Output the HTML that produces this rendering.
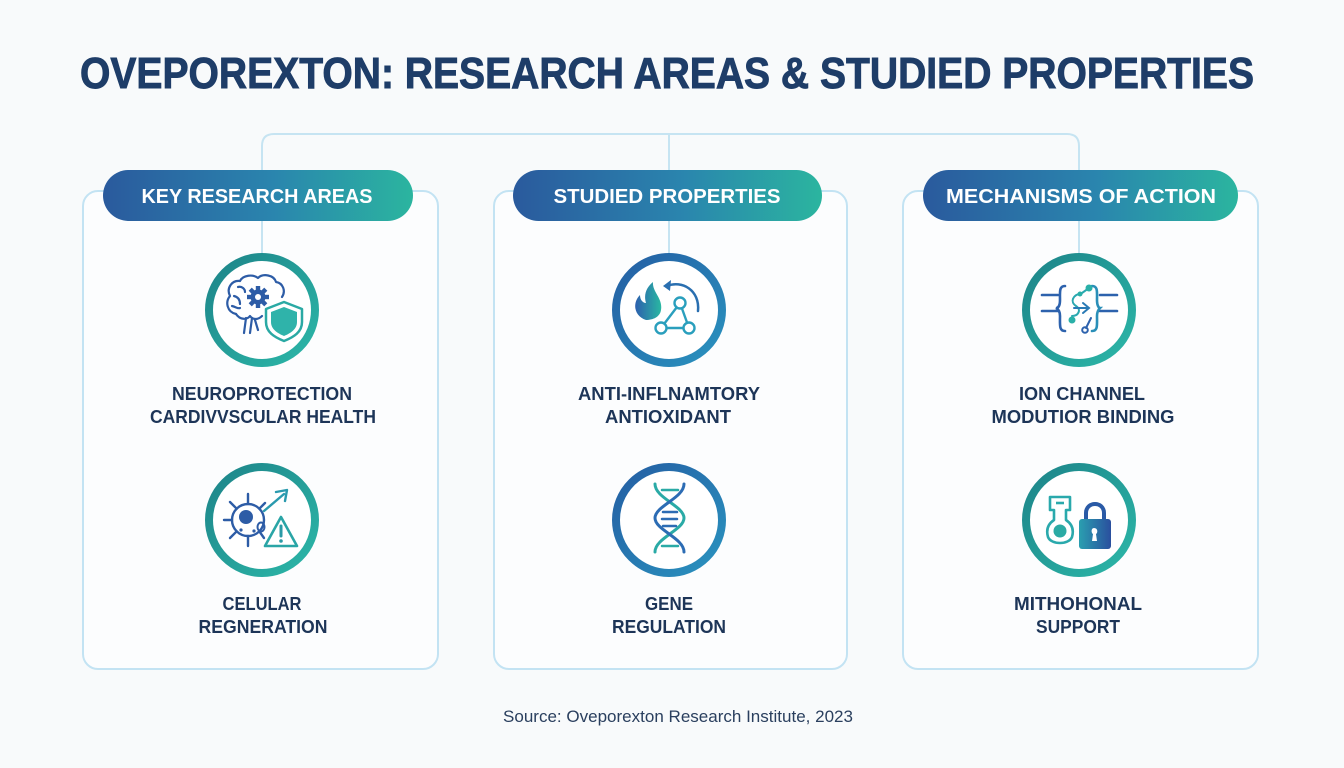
<!DOCTYPE html>
<html>
<head>
<meta charset="utf-8">
<style>
  html,body{margin:0;padding:0;background:#f8fafb;}
  svg{display:block;}
  text{font-family:"Liberation Sans",Arial,sans-serif;}
</style>
</head>
<body>
<svg width="1344" height="768" viewBox="0 0 1344 768" xmlns="http://www.w3.org/2000/svg">
  <defs>
    <linearGradient id="tab" x1="0" y1="0" x2="1" y2="0">
      <stop offset="0" stop-color="#2a5a9d"/>
      <stop offset="0.55" stop-color="#2a85ae"/>
      <stop offset="1" stop-color="#2bb59f"/>
    </linearGradient>
    <linearGradient id="teal" x1="0" y1="0" x2="1" y2="1">
      <stop offset="0" stop-color="#1d8489"/>
      <stop offset="1" stop-color="#2cb7a8"/>
    </linearGradient>
    <linearGradient id="blue" x1="0" y1="0" x2="1" y2="1">
      <stop offset="0" stop-color="#245ea3"/>
      <stop offset="1" stop-color="#2a93bf"/>
    </linearGradient>
    <linearGradient id="flame" x1="0" y1="0" x2="1" y2="0">
      <stop offset="0" stop-color="#2c5fae"/>
      <stop offset="1" stop-color="#2ab8a2"/>
    </linearGradient>
    <linearGradient id="lock" x1="0" y1="0" x2="1" y2="0">
      <stop offset="0" stop-color="#2a9fb0"/>
      <stop offset="1" stop-color="#2a4f9e"/>
    </linearGradient>
  </defs>

  <rect width="1344" height="768" fill="#f8fafb"/>

  <!-- Title -->
  <text x="667" y="88" text-anchor="middle" font-size="44" font-weight="bold" fill="#1e3d68" stroke="#1e3d68" stroke-width="0.9" textLength="1174" lengthAdjust="spacingAndGlyphs">OVEPOREXTON: RESEARCH AREAS &amp; STUDIED PROPERTIES</text>

  <!-- connector lines -->
  <g fill="none" stroke="#c6e4f2" stroke-width="2">
    <path d="M262,172 V146 Q262,134 274,134 H1067 Q1079,134 1079,146 V172"/>
    <path d="M669,134 V172"/>
  </g>

  <!-- Cards -->
  <g fill="#fcfdfe" stroke="#c3e3f3" stroke-width="2">
    <rect x="83" y="191" width="355" height="478" rx="15"/>
    <rect x="494" y="191" width="353" height="478" rx="15"/>
    <rect x="903" y="191" width="355" height="478" rx="15"/>
  </g>

  <!-- vertical connectors tab->circle -->
  <g stroke="#c6e4f2" stroke-width="2">
    <line x1="262" y1="221" x2="262" y2="254"/>
    <line x1="669" y1="221" x2="669" y2="254"/>
    <line x1="1079" y1="221" x2="1079" y2="254"/>
  </g>

  <!-- Tabs -->
  <rect x="103" y="170" width="310" height="51" rx="25.5" fill="url(#tab)"/>
  <rect x="513" y="170" width="309" height="51" rx="25.5" fill="url(#tab)"/>
  <rect x="923" y="170" width="315" height="51" rx="25.5" fill="url(#tab)"/>
  <g fill="#ffffff" font-size="20" font-weight="bold">
    <text x="257" y="203" text-anchor="middle" textLength="231" lengthAdjust="spacingAndGlyphs">KEY RESEARCH AREAS</text>
    <text x="667" y="203" text-anchor="middle" textLength="227" lengthAdjust="spacingAndGlyphs">STUDIED PROPERTIES</text>
    <text x="1081" y="203" text-anchor="middle" textLength="270" lengthAdjust="spacingAndGlyphs">MECHANISMS OF ACTION</text>
  </g>

  <!-- Circles -->
  <g fill="#ffffff" stroke-width="8">
    <circle cx="262" cy="310" r="53" stroke="url(#teal)"/>
    <circle cx="669" cy="310" r="53" stroke="url(#blue)"/>
    <circle cx="1079" cy="310" r="53" stroke="url(#teal)"/>
    <circle cx="262" cy="520" r="53" stroke="url(#teal)"/>
    <circle cx="669" cy="520" r="53" stroke="url(#blue)"/>
    <circle cx="1079" cy="520" r="53" stroke="url(#teal)"/>
  </g>

  <!-- Icon 1: brain + gear + shield -->
  <g fill="none" stroke="#2d5ca6" stroke-width="2.2" stroke-linecap="round" stroke-linejoin="round">
    <path d="M236,314 C227,312 225,302 230,296 C226,288 232,280 240,281 C243,275 253,274 258,278 C263,273 274,275 276,282 C283,283 286,291 282,297"/>
    <path d="M236,314 C240,320 247,320 250,316 C253,320 258,320 262,316"/>
    <path d="M246,318 L244,333 M252,318 L250,333 M255,320 L258,330"/>
    <path d="M234,296 C238,297 240,300 240,304 M238,287 C242,286 245,289 245,292 M232,306 C236,307 238,309 240,308"/>
  </g>
  <g transform="translate(258,297)">
    <circle r="7.5" fill="#2d5ca6"/>
    <g fill="#2d5ca6">
      <rect x="-2.2" y="-11" width="4.4" height="5"/>
      <rect x="-2.2" y="6" width="4.4" height="5"/>
      <rect x="-11" y="-2.2" width="5" height="4.4"/>
      <rect x="6" y="-2.2" width="5" height="4.4"/>
      <rect x="-2.2" y="-11" width="4.4" height="5" transform="rotate(45)"/>
      <rect x="-2.2" y="6" width="4.4" height="5" transform="rotate(45)"/>
      <rect x="-11" y="-2.2" width="5" height="4.4" transform="rotate(45)"/>
      <rect x="6" y="-2.2" width="5" height="4.4" transform="rotate(45)"/>
    </g>
    <circle r="3" fill="#ffffff"/>
  </g>
  <path d="M284,302 L302,309 V322 C302,332 294,337 284,341 C274,337 266,332 266,322 V309 Z" fill="#ffffff" stroke="#2aa9a4" stroke-width="2.5" stroke-linejoin="round"/>
  <path d="M284,307 L297,312 V322 C297,329 291,333 284,336 C277,333 271,329 271,322 V312 Z" fill="#2fb3aa"/>

  <!-- Icon 2: flame + cycle + molecule -->
  <path d="M646,320 C634,316 632,303 640,295 C640,300 643,303 646,303 C643,293 648,286 653,282 C652,292 663,298 661,310 C660,317 653,320 646,320 Z" fill="url(#flame)"/>
  <path d="M667,286 C682,280 700,290 698,311" fill="none" stroke="#2a6fb0" stroke-width="2.5" stroke-linecap="round"/>
  <path d="M663,286 L671,280 L670,291 Z" fill="#2a6fb0"/>
  <g fill="#ffffff" stroke="#2a9fbd" stroke-width="2.4">
    <line x1="680" y1="303" x2="661" y2="328"/>
    <line x1="680" y1="303" x2="689" y2="328"/>
    <line x1="661" y1="328" x2="689" y2="328"/>
    <circle cx="680" cy="303" r="5.5"/>
    <circle cx="661" cy="328" r="5.5"/>
    <circle cx="689" cy="328" r="5.5"/>
  </g>

  <!-- Icon 3: channel -->
  <g fill="none" stroke-linecap="round" stroke-width="2.6">
    <line x1="1042" y1="295" x2="1058" y2="295" stroke="#2d62ad"/>
    <line x1="1042" y1="311" x2="1058" y2="311" stroke="#2d62ad"/>
    <line x1="1100" y1="295" x2="1117" y2="295" stroke="#2d62ad"/>
    <line x1="1100" y1="311" x2="1117" y2="311" stroke="#2d62ad"/>
    <path d="M1065,286 C1059,286 1060,292 1060,300 C1060,306 1058,308 1056,308 C1058,309 1060,311 1060,316 C1060,325 1059,331 1065,331" stroke="#2d62ad"/>
    <path d="M1092,286 C1098,286 1097,292 1097,300 C1097,306 1099,308 1100,308 C1099,309 1097,311 1097,316 C1097,325 1098,331 1092,331" stroke="#2a8fb8"/>
    <path d="M1082,293 C1072,295 1070,302 1076,306 C1082,310 1078,316 1072,316" stroke="#2aa8b0" stroke-width="2"/>
    <path d="M1074,308 H1088" stroke="#2a7ab5" stroke-width="2"/>
    <path d="M1083,303 L1089,308 L1083,313" stroke="#2a7ab5" stroke-width="2"/>
    <path d="M1082,293 L1089,288" stroke="#2aa8b0" stroke-width="2"/>
    <path d="M1091,318 L1086,328" stroke="#2d62ad" stroke-width="2"/>
  </g>
  <circle cx="1089" cy="288" r="3.5" fill="#2ab0a8"/>
  <circle cx="1080" cy="294" r="2.5" fill="#2ab0a8"/>
  <circle cx="1072" cy="320" r="3.5" fill="#2ab0a8"/>
  <circle cx="1085" cy="330" r="2.8" fill="none" stroke="#2d62ad" stroke-width="2"/>

  <!-- Bottom icon 1: cell + arrow + warning -->
  <g stroke="#2d5ca6" stroke-width="2.4" stroke-linecap="round" fill="none">
    <circle cx="248" cy="520" r="16"/>
    <line x1="248" y1="504" x2="248" y2="494"/>
    <line x1="248" y1="536" x2="248" y2="546"/>
    <line x1="232" y1="520" x2="224" y2="520"/>
    <line x1="236.7" y1="508.7" x2="230" y2="502"/>
    <line x1="236.7" y1="531.3" x2="230" y2="538"/>
    <line x1="259.3" y1="508.7" x2="265" y2="503"/>
    <line x1="259.3" y1="531.3" x2="264" y2="538"/>
  </g>
  <circle cx="246" cy="517" r="7" fill="#2d5ca6"/>
  <ellipse cx="261" cy="527" rx="3.5" ry="4.5" fill="none" stroke="#2d5ca6" stroke-width="2"/>
  <circle cx="254" cy="531" r="1.6" fill="#2d5ca6"/>
  <circle cx="241" cy="530" r="1.6" fill="#2d5ca6"/>
  <path d="M264,511 L284,494" stroke="#2a9aae" stroke-width="2.4" stroke-linecap="round"/>
  <path d="M276,492 L287,490 L285,501" fill="none" stroke="#2a9aae" stroke-width="2.4" stroke-linecap="round" stroke-linejoin="round"/>
  <path d="M281,517 L297,546 H265 Z" fill="#ffffff" stroke="#2aa5a6" stroke-width="2.6" stroke-linejoin="round"/>
  <line x1="281" y1="526" x2="281" y2="536" stroke="#2a9aa6" stroke-width="3" stroke-linecap="round"/>
  <circle cx="281" cy="541" r="1.8" fill="#2a9aa6"/>

  <!-- Bottom icon 2: DNA -->
  <g fill="none" stroke-width="3" stroke-linecap="round">
    <path d="M655,484 C655,498 684,506 684,518 C684,530 655,538 655,552" stroke="#2aaaa6"/>
    <path d="M684,484 C684,498 655,506 655,518 C655,530 684,538 684,552" stroke="#2c6cb4"/>
    <line x1="662" y1="490" x2="678" y2="490" stroke="#2aaaa6" stroke-width="2.5"/>
    <line x1="663" y1="512" x2="677" y2="512" stroke="#2c6cb4" stroke-width="2.5"/>
    <line x1="662" y1="519" x2="677" y2="519" stroke="#2c6cb4" stroke-width="2.5"/>
    <line x1="663" y1="526" x2="676" y2="526" stroke="#2c6cb4" stroke-width="2.5"/>
    <line x1="662" y1="546" x2="678" y2="546" stroke="#2aaaa6" stroke-width="2.5"/>
  </g>

  <!-- Bottom icon 3: key + padlock -->
  <path d="M1050,497 H1070 V510 H1066 V520 C1072,524 1074,530 1072,537 C1069,545 1051,545 1048,537 C1046,530 1048,524 1054,520 V510 H1050 Z" fill="#ffffff" stroke="#2aa9ac" stroke-width="2.6" stroke-linejoin="round"/>
  <line x1="1056" y1="503" x2="1064" y2="503" stroke="#2aa9ac" stroke-width="2.6"/>
  <circle cx="1060" cy="531" r="6.5" fill="#2aaaa4"/>
  <path d="M1086,520 V513 C1086,501 1104,501 1104,513 V520" fill="none" stroke="#2a5aa6" stroke-width="4"/>
  <rect x="1079" y="519" width="32" height="30" rx="3" fill="url(#lock)"/>
  <path d="M1094,528 C1091,528 1091,533 1093,534 L1092,541 H1097 L1096,534 C1098,533 1098,528 1094,528 Z" fill="#ffffff"/>

  <!-- Labels -->
  <g fill="#1d3558" font-size="18" font-weight="bold" text-anchor="middle">
    <text x="262" y="400" textLength="180" lengthAdjust="spacingAndGlyphs">NEUROPROTECTION</text>
    <text x="263" y="423" textLength="226" lengthAdjust="spacingAndGlyphs">CARDIVVSCULAR HEALTH</text>
    <text x="669" y="400" textLength="182" lengthAdjust="spacingAndGlyphs">ANTI-INFLNAMTORY</text>
    <text x="668" y="423" textLength="126" lengthAdjust="spacingAndGlyphs">ANTIOXIDANT</text>
    <text x="1082" y="400" textLength="126" lengthAdjust="spacingAndGlyphs">ION CHANNEL</text>
    <text x="1083" y="423" textLength="183" lengthAdjust="spacingAndGlyphs">MODUTIOR BINDING</text>

    <text x="262" y="610" textLength="79" lengthAdjust="spacingAndGlyphs">CELULAR</text>
    <text x="263" y="633" textLength="129" lengthAdjust="spacingAndGlyphs">REGNERATION</text>
    <text x="669" y="610" textLength="48" lengthAdjust="spacingAndGlyphs">GENE</text>
    <text x="669" y="633" textLength="114" lengthAdjust="spacingAndGlyphs">REGULATION</text>
    <text x="1078" y="610" textLength="128" lengthAdjust="spacingAndGlyphs">MITHOHONAL</text>
    <text x="1078" y="633" textLength="84" lengthAdjust="spacingAndGlyphs">SUPPORT</text>
  </g>

  <!-- Source -->
  <text x="678" y="722" text-anchor="middle" font-size="16.5" fill="#2a3f5e" textLength="350" lengthAdjust="spacingAndGlyphs">Source: Oveporexton Research Institute, 2023</text>
</svg>
</body>
</html>
